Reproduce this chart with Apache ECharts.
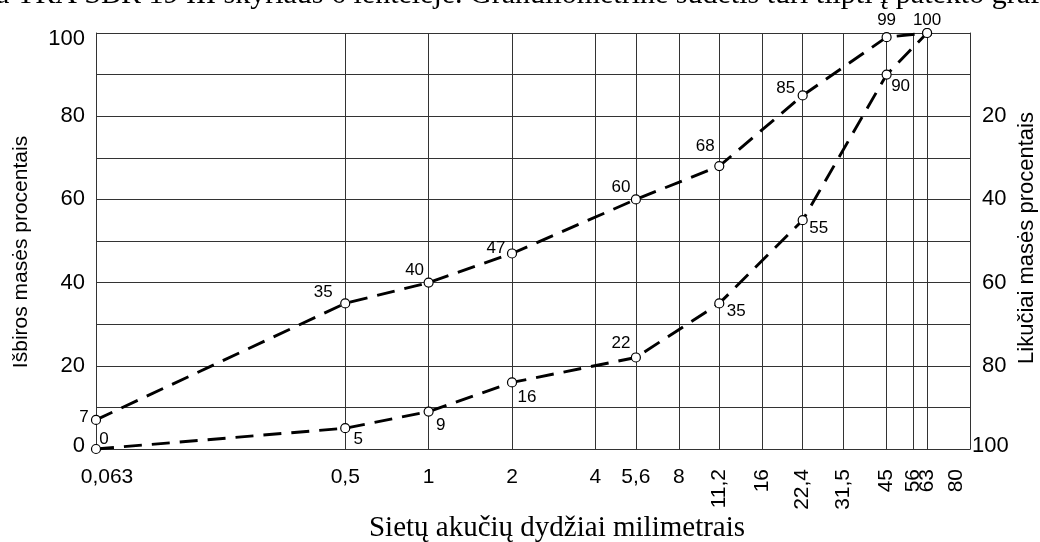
<!DOCTYPE html>
<html><head><meta charset="utf-8">
<script src="https://cdn.jsdelivr.net/npm/echarts@6/dist/echarts.min.js"></script>
<style>html,body{margin:0;padding:0;background:#fff}#c{width:1040px;height:542px}</style>
</head><body><div id="c"></div>
<script>
// ---- data ----
const sieveSizes = [0.063, 0.5, 1, 2, 5.6, 11.2, 22.4, 45, 63];
const upperPassing = [7, 35, 40, 47, 60, 68, 85, 99, 100];
const lowerPassing = [0, 5, 9, 16, 22, 35, 55, 90, 100];
const gridSizes = [0.5, 1, 2, 4, 5.6, 8, 11.2, 16, 22.4, 31.5, 45, 56, 63];
const flatTickLabels = [0.063, 0.5, 1, 2, 4, 5.6, 8];
const rotatedTickLabels = [11.2, 16, 22.4, 31.5, 45, 56, 63, 80];
const xRange = [0.0629999, 90];
const titleText = 'a TRA SBR 19 III skyriaus 6 lentelėje. Granuliometrinė sudėtis turi tilpti į patekto grafiką.';
const xName = 'Sietų akučių dydžiai milimetrais';
const yNameLeft = 'Išbiros masės procentais';
const yNameRight = 'Likučiai masės procentais';

// ---- label placement (styling only) ----
const upperOffsets = [[-12,-3],[-22,-11],[-14,-12],[-16,-5],[-15,-12],[-14,-20],[-17,-7],[0,-17],[0,-13]];
const lowerOffsets = [[8,-10],[13,11],[12,14],[15,15],[-15,-14],[17,8],[16,8],[14,12],null];

const SANS = 'Liberation Sans';
const SERIF = 'Liberation Serif';
const GRID = '#333';

function makeSeries(vals, offs) {
  return {
    type: 'line',
    xAxisIndex: 0, yAxisIndex: 0,
    clip: false,
    symbol: 'circle', symbolSize: 9, showAllSymbol: true,
    lineStyle: {color: '#000', width: 2.9, type: [18, 10]},
    itemStyle: {color: '#fff', borderColor: '#000', borderWidth: 1.2},
    label: {show: true, position: 'inside', color: '#000', fontSize: 17, fontFamily: SANS,
            formatter: p => String(p.value[1])},
    emphasis: {disabled: true},
    z: 5,
    data: sieveSizes.map((s, i) => ({
      value: [s, vals[i]],
      label: offs[i] ? {offset: offs[i]} : {show: false}
    }))
  };
}

const xFmt = v => String(v).replace('.', ',');

const chart = echarts.init(document.getElementById('c'), null, {renderer: 'canvas'});
chart.setOption({
  animation: false,
  backgroundColor: '#fff',
  grid: {left: 96, right: 70, top: 33, bottom: 93, containLabel: false, outerBoundsMode: 'none'},
  xAxis: [{
    type: 'log', logBase: 1.01, min: xRange[0], max: xRange[1], position: 'bottom',
    axisLine: {show: true, lineStyle: {color: GRID, width: 1}},
    axisTick: {show: true, customValues: gridSizes, inside: true, length: 416, lineStyle: {color: GRID, width: 1}},
    splitLine: {show: false}, minorTick: {show: false},
    axisLabel: {
      customValues: flatTickLabels, margin: 18, color: '#000', fontSize: 21, fontFamily: SANS,
      formatter: v => v === 0.063 ? '{s|' + xFmt(v) + '}' : xFmt(v),
      rich: {s: {padding: [0, 0, 0, 22], fontSize: 21, fontFamily: SANS, color: '#000'}}
    }
  }, {
    type: 'log', logBase: 1.01, min: xRange[0], max: xRange[1], position: 'bottom',
    axisLine: {show: false}, axisTick: {show: false}, splitLine: {show: false},
    axisLabel: {customValues: rotatedTickLabels, rotate: 90, margin: 20, color: '#000', fontSize: 21, fontFamily: SANS,
      formatter: xFmt}
  }],
  yAxis: [{
    type: 'value', min: 0, max: 100, interval: 10, position: 'left',
    axisLine: {show: true, lineStyle: {color: GRID, width: 1}},
    axisTick: {show: false},
    splitLine: {show: true, lineStyle: {color: GRID, width: 1}},
    axisLabel: {
      margin: 11, color: '#000', fontSize: 22, fontFamily: SANS,
      formatter: v => v % 20 !== 0 ? '' : (v === 100 ? '{t|100}' : (v === 0 ? '{b|0}' : String(v))),
      rich: {
        t: {padding: [11, 0, 0, 0], fontSize: 22, fontFamily: SANS, color: '#000'},
        b: {padding: [0, 0, 6, 0], fontSize: 22, fontFamily: SANS, color: '#000'}
      }
    }
  }, {
    type: 'value', min: 0, max: 100, interval: 10, position: 'right', inverse: true,
    axisLine: {show: true, lineStyle: {color: GRID, width: 1}},
    axisTick: {show: false}, splitLine: {show: false},
    axisLabel: {
      margin: 2, color: '#000', fontSize: 22, fontFamily: SANS,
      formatter: v => (v % 20 !== 0 || v === 0) ? '' : (v === 100 ? '{e|100}' : '{n|' + v + '}'),
      rich: {
        n: {padding: [0, 0, 0, 10], fontSize: 22, fontFamily: SANS, color: '#000'},
        e: {padding: [0, 0, 7, 0], fontSize: 22, fontFamily: SANS, color: '#000'}
      }
    }
  }],
  graphic: [
    {type: 'text', x: -4, y: -5, silent: true,
     style: {text: titleText, fontSize: 30, fontFamily: SERIF, fill: '#000', align: 'left', verticalAlign: 'middle'}},
    {type: 'text', x: 557, y: 528.5, silent: true,
     style: {text: xName, fontSize: 29, fontFamily: SERIF, fill: '#000', align: 'center', verticalAlign: 'middle'}},
    {type: 'text', x: 21, y: 252, rotation: Math.PI / 2, silent: true,
     style: {text: yNameLeft, fontSize: 21, fontFamily: SANS, fill: '#000', align: 'center', verticalAlign: 'middle'}},
    {type: 'text', x: 1027, y: 238, rotation: Math.PI / 2, silent: true,
     style: {text: yNameRight, fontSize: 22, fontFamily: SANS, fill: '#000', align: 'center', verticalAlign: 'middle'}}
  ],
  series: [makeSeries(upperPassing, upperOffsets), makeSeries(lowerPassing, lowerOffsets)]
});
</script>
</body></html>
